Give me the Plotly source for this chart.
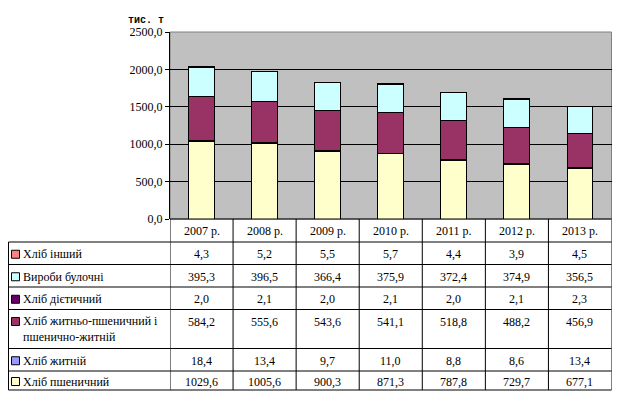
import plotly.graph_objects as go

years = ["2007 р.", "2008 р.", "2009 р.", "2010 р.", "2011 р.", "2012 р.", "2013 р."]
# bottom-to-top stack order
series_names = ["Хліб пшеничний", "Хліб житній", "Хліб житньо-пшеничний і<br>пшенично-житній",
                "Хліб дієтичний", "Вироби булочні", "Хліб інший"]
wheat = [1029.6, 1005.6, 900.3, 871.3, 787.8, 729.7, 677.1]
rye = [18.4, 13.4, 9.7, 11.0, 8.8, 8.6, 13.4]
rye_wheat = [584.2, 555.6, 543.6, 541.1, 518.8, 488.2, 456.9]
dietary = [2.0, 2.1, 2.0, 2.1, 2.0, 2.1, 2.3]
buns = [395.3, 396.5, 366.4, 375.9, 372.4, 374.9, 356.5]
other = [4.3, 5.2, 5.5, 5.7, 4.4, 3.9, 4.5]
series_values = [wheat, rye, rye_wheat, dietary, buns, other]
colors = ["#FFFFCC", "#9999FF", "#993366", "#660066", "#CCFFFF", "#FF8080"]

# page has an 8px body margin; size the figure to fit the 620x406 window
OFF = 8
W, H = 620 - 2 * OFF, 406 - 2 * OFF
FONT = "Liberation Serif, Times New Roman, serif"

def py(y):
    return 1 - (y - OFF) / H

def px(x):
    return (x - OFF) / W

fig = go.Figure()
x_idx = list(range(len(years)))
for name, vals, col in zip(series_names, series_values, colors):
    fig.add_trace(go.Bar(x=x_idx, y=vals, name=name,
                         marker=dict(color=col, line=dict(color="black", width=1)),
                         width=0.41, showlegend=False))

plot_left, plot_right, plot_top, plot_bottom = 170, 611.5, 32, 219

shapes = []
annotations = []

# plot frame (gray)
shapes.append(dict(type="rect", xref="paper", yref="paper", x0=px(plot_left), x1=px(plot_right),
                   y0=py(plot_bottom), y1=py(plot_top), line=dict(color="#808080", width=1), layer="below"))

# table geometry (screen pixel rows), top-to-bottom display order
row_bounds = [242, 264.5, 287, 309.5, 348.5, 371, 390]
table_left = 8.5
shapes.append(dict(type="line", xref="paper", yref="paper", x0=px(plot_left), x1=px(plot_right),
                   y0=py(plot_bottom), y1=py(plot_bottom), line=dict(color="black", width=1)))
for yb in row_bounds:
    shapes.append(dict(type="line", xref="paper", yref="paper", x0=px(table_left), x1=px(plot_right),
                       y0=py(yb), y1=py(yb), line=dict(color="black", width=1)))
shapes.append(dict(type="line", xref="paper", yref="paper", x0=px(table_left), x1=px(table_left),
                   y0=py(row_bounds[0]), y1=py(row_bounds[-1]), line=dict(color="black", width=1)))
for i in range(len(years) + 1):
    shapes.append(dict(type="line", xref="x", yref="paper", x0=i - 0.5, x1=i - 0.5,
                       y0=py(plot_bottom), y1=py(row_bounds[-1]), line=dict(color="black", width=1)))

# header labels
for i, yr in enumerate(years):
    annotations.append(dict(x=i, y=py((plot_bottom + row_bounds[0]) / 2 + 1), xref="x", yref="paper",
                            text=yr, showarrow=False, font=dict(family=FONT, size=12, color="black"),
                            xanchor="center", yanchor="middle"))

# rows (display top-to-bottom = reversed stack order)
disp = list(reversed(range(len(series_names))))
for r, si in enumerate(disp):
    top, bot = row_bounds[r], row_bounds[r + 1]
    two_line = "<br>" in series_names[si]
    ty = top + 12 if two_line else (top + bot) / 2 + 1
    shapes.append(dict(type="rect", xref="paper", yref="paper", x0=px(11.5), x1=px(19.5),
                       y0=py(ty + 4), y1=py(ty - 4), fillcolor=colors[si], line=dict(color="black", width=1)))
    if two_line:
        annotations.append(dict(x=px(21), y=py(top + 2), xref="paper", yref="paper", text=series_names[si],
                                showarrow=False, align="left", xanchor="left", yanchor="top",
                                font=dict(family=FONT, size=12, color="black")))
    else:
        annotations.append(dict(x=px(21), y=py(ty), xref="paper", yref="paper", text=series_names[si],
                                showarrow=False, align="left", xanchor="left", yanchor="middle",
                                font=dict(family=FONT, size=12, color="black")))
    for i, v in enumerate(series_values[si]):
        annotations.append(dict(x=i, y=py(ty), xref="x", yref="paper", text=f"{v:.1f}".replace(".", ","),
                                showarrow=False, xanchor="center", yanchor="middle",
                                font=dict(family=FONT, size=12, color="black")))

# unit label
annotations.append(dict(x=px(146), y=py(20), xref="paper", yref="paper", text="<b>тис. т</b>", showarrow=False,
                        xanchor="center", yanchor="middle",
                        font=dict(family="Liberation Mono", size=10, color="black")))

fig.update_layout(
    width=W, height=H, autosize=False,
    margin=dict(l=0, r=0, t=0, b=0),
    paper_bgcolor="white", plot_bgcolor="#C0C0C0",
    barmode="stack", separators=", ",
    font=dict(family=FONT, size=12, color="black"),
    xaxis=dict(domain=[px(plot_left), px(plot_right)], range=[-0.5, len(years) - 0.5],
               showticklabels=False, showgrid=False, zeroline=False, ticks=""),
    yaxis=dict(domain=[py(plot_bottom), py(plot_top)], range=[0, 2500], dtick=500, tickformat=".1f",
               showgrid=True, gridcolor="black", gridwidth=1, zeroline=False, automargin=False,
               showline=True, linecolor="black", linewidth=1, ticks="outside", ticklen=4, tickcolor="black",
               tickfont=dict(family=FONT, size=12, color="black")),
    shapes=shapes, annotations=annotations,
)

fig.write_html("out.html")
